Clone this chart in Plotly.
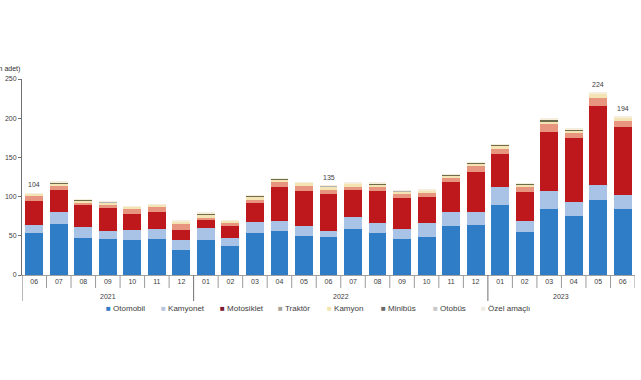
import plotly.graph_objects as go
import numpy as np

years = ["2021"] * 7 + ["2022"] * 12 + ["2023"] * 6
months = ["06", "07", "08", "09", "10", "11", "12",
          "01", "02", "03", "04", "05", "06", "07", "08", "09", "10", "11", "12",
          "01", "02", "03", "04", "05", "06"]

otomobil = [53, 64.6, 47.6, 46, 44.6, 45.5, 32, 45, 37, 53, 56.5, 50, 48, 58.7, 53, 46.3, 49, 62.5, 63.8, 89, 55.3, 84, 75.7, 95.7, 84.6]
kamyonet = [10.5, 16.4, 14, 10, 12.8, 13.2, 12.6, 14.5, 10.6, 14, 12.5, 12.5, 8.5, 15.7, 13.7, 12.4, 17, 17.9, 16.6, 23.7, 14, 23, 17.3, 19.1, 17]
motosiklet = [31.5, 28, 27.4, 29, 20, 22.1, 12.8, 10.5, 15.4, 24.4, 43.7, 45, 46.5, 34.6, 40.8, 39.1, 34, 37.6, 50.6, 41.6, 37, 75.8, 81.7, 101.2, 87.4]
traktor = [5.5, 4.5, 4, 5.5, 7.6, 6.2, 8.6, 3, 3, 4.3, 6.3, 6.5, 6, 3.7, 5.1, 5.2, 5, 5.7, 8, 6.4, 6.4, 9.8, 6.8, 10, 7.8]
kamyon = [3, 3.5, 2.5, 2, 2, 2.5, 2, 4.4, 3, 4.3, 3, 3.5, 4, 3.8, 3.1, 3, 2.5, 3, 3.4, 5.1, 2.5, 3.8, 3, 5, 3.8]
minibus = [0.5, 1.2, 0.5, 0.5, 0.5, 0.5, 0.5, 1.2, 0.5, 1.0, 0.6, 0.5, 0.5, 0.5, 1.0, 1.0, 0.5, 1.2, 0.7, 0.6, 1.2, 1.4, 1.2, 0.7, 0.7]
otobus = [0.2] * 25
ozel = [0.3, 0.6, 0.3, 0.3, 0.3, 0.3, 0.3, 0.7, 0.3, 0.8, 0.2, 0.3, 0.3, 0.3, 0.8, 0.8, 0.3, 0.7, 0.4, 0.4, 0.7, 1.0, 1.1, 0.6, 0.5]

top_labels = ["104", "", "", "", "", "", "", "", "", "", "", "", "135", "", "", "", "", "", "", "", "", "", "", "224", "194"]

series = [
    ("Otomobil", otomobil, "#2E7DC6"),
    ("Kamyonet", kamyonet, "#A8C3E6"),
    ("Motosiklet", motosiklet, "#BE171C"),
    ("Traktör", traktor, "#E8957F"),
    ("Kamyon", kamyon, "#F4E4B4"),
    ("Minibüs", minibus, "#6E6C4C"),
    ("Otobüs", otobus, "#B5B5B5"),
    ("Özel amaçlı", ozel, "#F6EEDD"),
]
legend_marker_colors = ["#2E7DC6", "#B7C6DE", "#7A1A2C", "#A8A399", "#F1E6B0", "#6A6A6A", "#C8C8C8", "#EFEBE2"]

# layout constants (pixels)
W, H = 641, 380
ML, MR, MT, MB = 22, 6, 79, 105
PW, PH = W - ML - MR, H - MT - MB
legend_px = [104, 159, 218, 276, 325, 379, 431, 479]

keys = [f"{y}-{m}" for y, m in zip(years, months)]
fig = go.Figure()
for name, vals, col in series:
    fig.add_trace(go.Bar(x=keys, y=vals, name=name, marker=dict(color=col, line=dict(width=0)),
                         showlegend=False))

totals = np.sum([s[1] for s in series], axis=0)
for i, lab in enumerate(top_labels):
    if lab:
        fig.add_annotation(x=keys[i], y=float(totals[i]), text=lab, showarrow=False,
                           yanchor="bottom", yshift=3, font=dict(size=7, color="#404040"))

# year group labels and dividers
n = len(keys)
groups = []
for i, y in enumerate(years):
    if not groups or groups[-1][0] != y:
        groups.append([y, i, i])
    else:
        groups[-1][2] = i
for y, a, b in groups:
    fig.add_annotation(x=(a + b) / 2, xref="x", y=-21 / PH, yref="paper", text=y, showarrow=False,
                       yanchor="middle", font=dict(size=7, color="#404040"))

for i in range(n + 1):
    is_year = i == 0 or (0 < i < n and years[i] != years[i - 1])
    y1 = -26 / PH if is_year else -13 / PH
    fig.add_shape(type="line", xref="x", yref="paper", x0=i - 0.5, x1=i - 0.5, y0=0, y1=y1,
                  line=dict(color="#9A9A9A" if not is_year else "#707070", width=1))

# y title (partly cut at left edge, as in the reference)
fig.add_annotation(xref="paper", yref="paper", x=(22 - ML) / PW, y=1 + (79 - 69) / PH,
                   xanchor="right", yanchor="middle", text="(Bin adet)", showarrow=False,
                   font=dict(size=7, color="#303030"))

# legend row
for (name, _, _), mc, px in zip(series, legend_marker_colors, legend_px):
    fig.add_annotation(xref="paper", yref="paper", x=(px - ML) / PW, y=-(308 - 275) / PH,
                       xanchor="left", yanchor="middle", showarrow=False,
                       text=f"<span style='color:{mc}'>■</span> {name}",
                       font=dict(size=8, color="#404040"))

fig.update_layout(
    barmode="stack",
    bargap=0.27,
    width=W, height=H,
    margin=dict(l=ML, r=MR, t=MT, b=MB),
    plot_bgcolor="white", paper_bgcolor="white",
    font=dict(family="Liberation Sans, Arial", size=7, color="#404040"),
    showlegend=False,
)
fig.update_yaxes(range=[0, 250], dtick=50, showgrid=False, showline=True, linecolor="#707070",
                 linewidth=1, ticks="outside", ticklen=3, tickcolor="#707070",
                 tickfont=dict(size=7, color="#404040"), zeroline=False)
fig.update_xaxes(type="category", range=[-0.5, n - 0.5], tickvals=keys, ticktext=months,
                 showline=True, linecolor="#A0A0A0", ticks="", showgrid=False,
                 tickfont=dict(size=7, color="#404040"))

fig.write_html("out.html", post_script="document.body.style.margin='0px';",
               config={"displayModeBar": False})
